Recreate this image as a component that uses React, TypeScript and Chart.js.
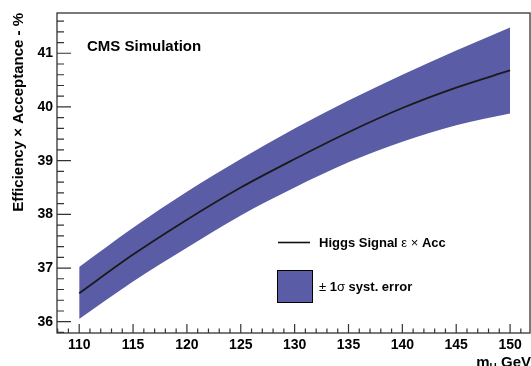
import React, { useEffect, useRef } from "react";
import { Chart, registerables } from "chart.js";

Chart.register(...registerables);

const masses = [110, 115, 120, 125, 130, 135, 140, 145, 150];
const central = [36.53, 37.25, 37.9, 38.5, 39.03, 39.53, 39.98, 40.36, 40.68];
const upper = [37.02, 37.75, 38.42, 39.03, 39.6, 40.12, 40.6, 41.05, 41.48];
const lower = [36.05, 36.75, 37.38, 37.98, 38.5, 38.97, 39.35, 39.66, 39.88];
const xTicks = [110, 115, 120, 125, 130, 135, 140, 145, 150];
const yTicks = [36, 37, 38, 39, 40, 41];

const FONT = "'Liberation Sans', Arial, Helvetica, sans-serif";
const BAND = "rgb(90,92,166)";

function drawRuns(ctx: CanvasRenderingContext2D, x: number, y: number, size: number, runs: [string, boolean][]) {
  let cx = x;
  for (const [t, bold] of runs) {
    ctx.font = `${bold ? "bold " : ""}${size}px ${FONT}`;
    ctx.fillText(t, cx, y);
    cx += ctx.measureText(t).width;
  }
}

const decorPlugin = {
  id: "decor",
  afterDraw(chart: any) {
    const ctx: CanvasRenderingContext2D = chart.ctx;
    const { left, right, top, bottom } = chart.chartArea;
    const xs = chart.scales.x;
    const ys = chart.scales.y;
    ctx.save();
    // frame
    ctx.strokeStyle = "#333";
    ctx.lineWidth = 1.3;
    ctx.strokeRect(left, top, right - left, bottom - top);
    // ticks
    ctx.lineWidth = 1.2;
    ctx.beginPath();
    for (let v = Math.ceil(xs.min); v <= xs.max; v += 1) {
      const px = xs.getPixelForValue(v);
      const major = v % 5 === 0;
      ctx.moveTo(px, bottom);
      ctx.lineTo(px, bottom - (major ? 9 : 4.5));
    }
    for (let i = Math.ceil(ys.min * 5); i <= ys.max * 5; i++) {
      const v = i / 5;
      const py = ys.getPixelForValue(v);
      const major = i % 5 === 0;
      ctx.moveTo(left, py);
      ctx.lineTo(left + (major ? 14 : 7), py);
    }
    ctx.stroke();

    ctx.fillStyle = "#000";
    ctx.textBaseline = "middle";
    ctx.textAlign = "left";
    // CMS Simulation
    ctx.font = `bold 15px ${FONT}`;
    ctx.fillText("CMS Simulation", 87, 47);

    // legend
    ctx.strokeStyle = "#111";
    ctx.lineWidth = 1.6;
    ctx.beginPath();
    ctx.moveTo(278, 242.5);
    ctx.lineTo(310, 242.5);
    ctx.stroke();
    drawRuns(ctx, 319, 243, 13, [
      ["Higgs Signal ", true],
      ["ε × ", false],
      ["Acc", true],
    ]);
    ctx.fillStyle = BAND;
    ctx.fillRect(277.5, 270.5, 35, 32);
    ctx.strokeStyle = "#000";
    ctx.lineWidth = 1;
    ctx.strokeRect(277.5, 270.5, 35, 32);
    ctx.fillStyle = "#000";
    drawRuns(ctx, 319, 287, 13, [
      ["± ", false],
      ["1", true],
      ["σ", false],
      [" syst. error", true],
    ]);

    // y title
    ctx.save();
    ctx.translate(19, 13);
    ctx.rotate(-Math.PI / 2);
    ctx.textAlign = "right";
    ctx.textBaseline = "middle";
    ctx.font = `bold 15px ${FONT}`;
    ctx.fillText("Efficiency × Acceptance - %", 0, 0);
    ctx.restore();

    // x title
    ctx.textBaseline = "alphabetic";
    ctx.textAlign = "left";
    ctx.font = `bold 15px ${FONT}`;
    const gev = " GeV";
    const wGev = ctx.measureText(gev).width;
    const wM = ctx.measureText("m").width;
    ctx.font = `bold 10px ${FONT}`;
    const wH = ctx.measureText("H").width;
    const x0 = 531 - wGev - wH - wM;
    ctx.font = `bold 15px ${FONT}`;
    ctx.fillText("m", x0, 367);
    ctx.font = `bold 10px ${FONT}`;
    ctx.fillText("H", x0 + wM, 371);
    ctx.font = `bold 15px ${FONT}`;
    ctx.fillText(gev, x0 + wM + wH, 367);
    ctx.restore();
  },
};

export default function App() {
  const ref = useRef<HTMLCanvasElement | null>(null);
  useEffect(() => {
    if (!ref.current) return;
    const pts = (arr: number[]) => masses.map((m, i) => ({ x: m, y: arr[i] }));
    const chart = new Chart(ref.current, {
      type: "line",
      data: {
        datasets: [
          {
            label: "upper",
            data: pts(upper),
            borderWidth: 0,
            borderColor: "rgba(0,0,0,0)",
            backgroundColor: BAND,
            fill: "+1",
            pointRadius: 0,
            cubicInterpolationMode: "monotone",
            order: 2,
          },
          {
            label: "lower",
            data: pts(lower),
            borderWidth: 0,
            borderColor: "rgba(0,0,0,0)",
            fill: false,
            pointRadius: 0,
            cubicInterpolationMode: "monotone",
            order: 3,
          },
          {
            label: "central",
            data: pts(central),
            borderWidth: 1.8,
            borderColor: "#1a1a1a",
            fill: false,
            pointRadius: 0,
            cubicInterpolationMode: "monotone",
            order: 0,
          },
        ],
      },
      options: {
        animation: false,
        responsive: false,
        devicePixelRatio: 1,
        layout: { padding: { top: 13, right: 1, left: 0, bottom: 0 } },
        plugins: { legend: { display: false }, tooltip: { enabled: false } },
        scales: {
          x: {
            type: "linear",
            min: 107.94,
            max: 151.85,
            grid: { display: false, drawTicks: false },
            border: { display: false },
            afterBuildTicks: (s: any) => {
              s.ticks = xTicks.map((v) => ({ value: v }));
            },
            afterFit: (s: any) => {
              s.height = 33;
            },
            ticks: {
              color: "#000",
              padding: 4,
              maxRotation: 0,
              autoSkip: false,
              font: { family: FONT, size: 14, weight: "bold" },
            },
          },
          y: {
            type: "linear",
            min: 35.79,
            max: 41.75,
            grid: { display: false, drawTicks: false },
            border: { display: false },
            afterBuildTicks: (s: any) => {
              s.ticks = yTicks.map((v) => ({ value: v }));
            },
            afterFit: (s: any) => {
              s.width = 57;
            },
            ticks: {
              color: "#000",
              padding: 4,
              autoSkip: false,
              font: { family: FONT, size: 14, weight: "bold" },
            },
          },
        },
      },
      plugins: [decorPlugin],
    } as any);
    return () => chart.destroy();
  }, []);
  return (
    <div style={{ position: "fixed", left: 0, top: 0, width: 531, height: 366, background: "#fff" }}>
      <canvas ref={ref} width={531} height={366} />
    </div>
  );
}
